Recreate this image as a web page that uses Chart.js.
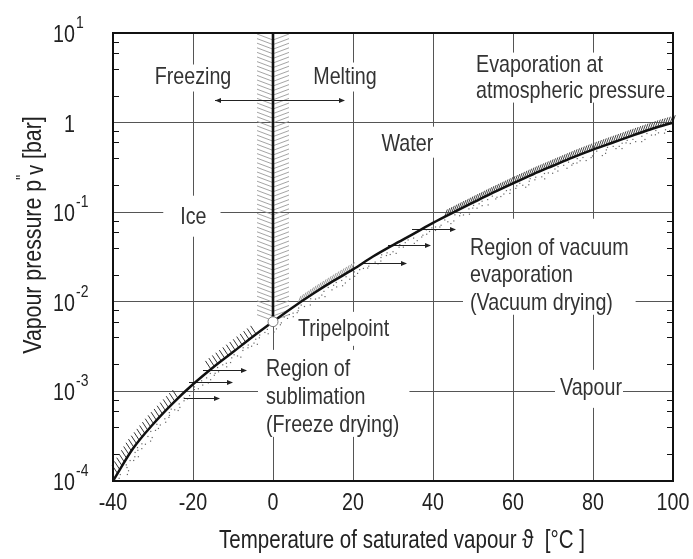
<!DOCTYPE html>
<html>
<head>
<meta charset="utf-8">
<script src="https://cdn.jsdelivr.net/npm/chart.js@4.4.1/dist/chart.umd.min.js"></script>
<style>
html, body { margin: 0; padding: 0; background: #fff; }
</style>
</head>
<body>
<canvas id="myChart" width="693" height="559"></canvas>
<script>
const FONT = '"Liberation Sans", Arial, sans-serif';
const SQUEEZE = 0.82; // condensed look of the original lettering

// saturation curve (ice below 0 °C, water above)
const temperature = [-40, -35, -30, -25, -20, -15, -10, -5, 0, 5, 10, 15, 20, 25, 30, 35, 40, 45, 50, 55, 60, 65, 70, 75, 80, 85, 90, 95, 100];
const pressure = [0.0001, 0.00023, 0.00043, 0.00074, 0.0012, 0.00185, 0.00275, 0.0041, 0.006,
  0.0087, 0.0123, 0.017, 0.023, 0.032, 0.043, 0.057, 0.076, 0.099, 0.128, 0.165, 0.21,
  0.265, 0.33, 0.41, 0.5, 0.6, 0.72, 0.86, 1.0];

const xTickValues = [-40, -20, 0, 20, 40, 60, 80, 100];
const yTickValues = [10, 1, 0.1, 0.01, 0.001, 0.0001];
const yTickBase = ['10', '1', '10', '10', '10', '10'];
const yTickExp = ['1', '', '-1', '-2', '-3', '-4'];
const minorSteps = [2, 4, 6, 8];

const xTitle = 'Temperature of saturated vapour \u03D1  [\u00B0C ]';
const triplePoint = { t: 0, p: 0.006 };

// text blocks, anchored in data coordinates (first baseline)
const notes = [
  { lines: ['Freezing'], t: -20, p: 2.73, align: 'center', pad: [4, 4, 2, 3] },
  { lines: ['Melting'], t: 18, p: 2.73, align: 'center', pad: [4, 4, 4, 3] },
  { lines: ['Evaporation at', 'atmospheric pressure'], t: 50.75, p: 3.71, align: 'left', gap: 26, pad: [4, 3, 2, 0] },
  { lines: ['Water'], t: 33.6, p: 0.486, align: 'center', pad: [3, 3, 7, 2] },
  { lines: ['Ice'], t: -19.9, p: 0.0744, align: 'center', pad: [17, 14, 11, 8] },
  { lines: ['Tripelpoint'], t: 6.25, p: 0.00417, align: 'left', pad: [6, 4, 7, 5] },
  { lines: ['Region of', 'sublimation', '(Freeze drying)'], t: -1.75, p: 0.00149, align: 'left', gap: 28, pad: [8, 10, 9, 0] },
  { lines: ['Region of vacuum', 'evaporation', '(Vacuum drying)'], t: 49.25, p: 0.0335, align: 'left', gap: 27.5, pad: [7, 7, 19, 0] },
  { lines: ['Vapour'], t: 71.75, p: 0.000915, align: 'left', pad: [5, 1, 8, 8] }
];

const arrows = [
  { t0: -14.5, t1: 18, p: 1.81, both: true },
  { t0: -17.5, t1: -6.5, p: 0.00174 },
  { t0: -21, t1: -10, p: 0.00128 },
  { t0: -22.25, t1: -13.25, p: 0.00085 },
  { t0: 34.75, t1: 45.75, p: 0.0655 },
  { t0: 28.75, t1: 39.5, p: 0.0434 },
  { t0: 22.5, t1: 33.5, p: 0.0273 }
];

// hatched stretches along the curve
const hatchRuns = [
  { from: -39, to: -23.5, dir: [-0.55, -0.83], len: 10, gap: 4.4, color: '#333' },
  { from: -16, to: -4, dir: [-0.55, -0.83], len: 10, gap: 4.4, color: '#333' },
  { from: 6, to: 20, dir: [0.38, -0.92], len: 9, gap: 3, color: '#999' },
  { from: 42.5, to: 100, dir: [0.35, -0.94], len: 8, gap: 2.6, color: '#444' }
];

function toPx(chart, t, p) {
  return [chart.scales.x.getPixelForValue(t), chart.scales.y.getPixelForValue(p)];
}

function textWidth(ctx, s, size) {
  ctx.font = size + 'px ' + FONT;
  return ctx.measureText(s).width * SQUEEZE;
}

// narrow text: regular face squeezed horizontally
function drawText(ctx, s, x, y, size, align) {
  const w = textWidth(ctx, s, size);
  const left = align === 'center' ? x - w / 2 : align === 'right' ? x - w : x;
  ctx.save();
  ctx.translate(left, y);
  ctx.scale(SQUEEZE, 1);
  ctx.textAlign = 'left';
  ctx.textBaseline = 'alphabetic';
  ctx.fillText(s, 0, 0);
  ctx.restore();
  return w;
}

// points every `step` px along the curve, between two temperatures
function walkCurve(chart, t0, t1, step) {
  const pts = temperature.map((t, i) => toPx(chart, t, pressure[i]));
  const a = chart.scales.x.getPixelForValue(t0);
  const b = chart.scales.x.getPixelForValue(t1);
  const out = [];
  let s = 0, next = 0;
  for (let i = 0; i < pts.length - 1; i++) {
    const [x0, y0] = pts[i], [x1, y1] = pts[i + 1];
    const len = Math.hypot(x1 - x0, y1 - y0);
    const ux = (x1 - x0) / len, uy = (y1 - y0) / len;
    while (next <= s + len) {
      const d = next - s;
      const x = x0 + ux * d, y = y0 + uy * d;
      if (x >= a && x <= b) out.push({ x, y, ux, uy });
      next += step;
    }
    s += len;
  }
  return out;
}

function arrowHead(ctx, x, y, dirx) {
  ctx.beginPath();
  ctx.moveTo(x, y);
  ctx.lineTo(x - dirx * 6, y - 2.4);
  ctx.lineTo(x - dirx * 6, y + 2.4);
  ctx.closePath();
  ctx.fill();
}

const decorPlugin = {
  id: 'decor',
  beforeDatasetsDraw(chart) {
    const ctx = chart.ctx;
    const area = chart.chartArea;
    ctx.save();

    // white boxes behind labels (they cut the grid)
    notes.forEach(n => {
      const [ax, ay] = toPx(chart, n.t, n.p);
      const gap = n.gap || 0;
      const w = Math.max(...n.lines.map(l => textWidth(ctx, l, 24)));
      const left = n.align === 'center' ? ax - w / 2 : ax;
      ctx.fillStyle = '#fff';
      ctx.fillRect(left - n.pad[0], ay - 17 - n.pad[2],
        w + n.pad[0] + n.pad[1], 17 + 5 + gap * (n.lines.length - 1) + n.pad[2] + n.pad[3]);
    });

    // chevron hatching along the melting line
    const [mx, my] = toPx(chart, triplePoint.t, triplePoint.p);
    ctx.strokeStyle = '#9a9a9a';
    ctx.lineWidth = 0.9;
    ctx.beginPath();
    for (let y = area.top + 1; y < my - 6; y += 4.6) {
      ctx.moveTo(mx - 16, y);
      ctx.lineTo(mx, y + 6);
      ctx.moveTo(mx, y + 6);
      ctx.lineTo(mx + 16, y);
    }
    ctx.stroke();

    // hatch strokes on the curve
    hatchRuns.forEach(r => {
      ctx.strokeStyle = r.color;
      ctx.lineWidth = 1;
      ctx.beginPath();
      walkCurve(chart, r.from, r.to, r.gap).forEach(s => {
        ctx.moveTo(s.x, s.y);
        ctx.lineTo(s.x + r.dir[0] * r.len, s.y + r.dir[1] * r.len);
      });
      ctx.stroke();
    });

    // stipple under the curve
    const offs = [3, 6, 2, 5, 8, 3, 7, 4, 2, 6, 5];
    ctx.fillStyle = '#666';
    walkCurve(chart, -39.5, 99, 1.9).forEach((s, i) => {
      if (i % 4 === 1 || i % 7 === 3) return;
      const o = offs[i % offs.length];
      ctx.fillRect(s.x - s.uy * o, s.y + s.ux * o, 1.2, 1.2);
    });

    // melting line
    ctx.strokeStyle = '#111';
    ctx.lineWidth = 2.6;
    ctx.beginPath();
    ctx.moveTo(mx, area.top);
    ctx.lineTo(mx, my);
    ctx.stroke();

    // arrows
    ctx.strokeStyle = '#222';
    ctx.fillStyle = '#222';
    ctx.lineWidth = 1;
    arrows.forEach(a => {
      const [x0, y] = toPx(chart, a.t0, a.p);
      const [x1] = toPx(chart, a.t1, a.p);
      const yy = Math.round(y) + 0.5;
      ctx.beginPath();
      ctx.moveTo(x0, yy);
      ctx.lineTo(x1 - 3, yy);
      ctx.stroke();
      arrowHead(ctx, x1, yy, 1);
      if (a.both) arrowHead(ctx, x0, yy, -1);
    });

    // label text
    ctx.fillStyle = '#333';
    notes.forEach(n => {
      const [ax, ay] = toPx(chart, n.t, n.p);
      n.lines.forEach((l, i) => drawText(ctx, l, ax, ay + i * (n.gap || 0), 24, n.align));
    });
    ctx.restore();
  },
  afterDatasetsDraw(chart) {
    const ctx = chart.ctx;
    const area = chart.chartArea;
    const xs = chart.scales.x;
    const ys = chart.scales.y;
    ctx.save();

    // triple point
    const [tx, ty] = toPx(chart, triplePoint.t, triplePoint.p);
    ctx.beginPath();
    ctx.arc(tx, ty, 5, 0, Math.PI * 2);
    ctx.fillStyle = '#fff';
    ctx.fill();
    ctx.strokeStyle = '#777';
    ctx.lineWidth = 1;
    ctx.stroke();

    // inward minor ticks, left and right
    ctx.strokeStyle = '#111';
    ctx.lineWidth = 1;
    ctx.beginPath();
    yTickValues.slice(1).forEach(d => {
      minorSteps.forEach(m => {
        const y = Math.round(ys.getPixelForValue(d * m)) + 0.5;
        ctx.moveTo(area.left, y); ctx.lineTo(area.left + 6, y);
        ctx.moveTo(area.right, y); ctx.lineTo(area.right - 6, y);
      });
    });
    ctx.stroke();

    // frame
    ctx.lineWidth = 2;
    ctx.strokeStyle = '#111';
    ctx.strokeRect(area.left, area.top, area.right - area.left, area.bottom - area.top);

    ctx.fillStyle = '#222';

    // x tick labels and title
    xTickValues.forEach(v => drawText(ctx, String(v), xs.getPixelForValue(v), area.bottom + 29, 24, 'center'));
    drawText(ctx, xTitle, (area.left + area.right) / 2 + 9, area.bottom + 67, 25, 'center');

    // y tick labels with exponents
    yTickValues.forEach((v, i) => {
      const y = ys.getPixelForValue(v);
      drawText(ctx, yTickBase[i], 75, y + 9, 24, 'right');
      if (yTickExp[i]) drawText(ctx, yTickExp[i], 76, y - 5, 17, 'left');
    });

    // y axis title: Vapour pressure p"v [bar]
    const parts = [
      { s: 'Vapour pressure p', size: 26, dy: 0 },
      { s: '"', size: 18, dy: -12 },
      { s: 'v', size: 24, dy: 2 },
      { s: ' [bar]', size: 26, dy: 0 }
    ];
    let total = 0;
    parts.forEach(pt => { pt.w = textWidth(ctx, pt.s, pt.size); total += pt.w; });
    ctx.translate(41, 235);
    ctx.rotate(-Math.PI / 2);
    let x = -total / 2;
    parts.forEach(pt => {
      drawText(ctx, pt.s, x, pt.dy, pt.size, 'left');
      x += pt.w;
    });
    ctx.restore();
  }
};

const data = {
  datasets: [{
    label: 'Vapour pressure',
    data: temperature.map((t, i) => ({ x: t, y: pressure[i] })),
    borderColor: '#111',
    borderWidth: 2.5,
    pointRadius: 0,
    cubicInterpolationMode: 'monotone',
    fill: false
  }]
};

const config = {
  type: 'line',
  data: data,
  options: {
    responsive: false,
    animation: false,
    layout: { padding: { top: 33, right: 20, left: 0, bottom: 0 } },
    plugins: {
      legend: { display: false },
      tooltip: { enabled: false }
    },
    scales: {
      x: {
        type: 'linear',
        min: -40,
        max: 100,
        afterBuildTicks: sc => { sc.ticks = xTickValues.map(v => ({ value: v })); },
        afterFit: sc => { sc.height = 78; },
        grid: { color: '#555', lineWidth: 1, drawTicks: false },
        border: { display: false },
        ticks: { display: false }
      },
      y: {
        type: 'logarithmic',
        min: 0.0001,
        max: 10,
        afterBuildTicks: sc => { sc.ticks = yTickValues.map(v => ({ value: v })); },
        afterFit: sc => { sc.width = 113; },
        grid: { color: '#555', lineWidth: 1, drawTicks: false },
        border: { display: false },
        ticks: { display: false }
      }
    }
  },
  plugins: [decorPlugin]
};

const myChart = new Chart(document.getElementById('myChart'), config);
</script>
</body>
</html>
